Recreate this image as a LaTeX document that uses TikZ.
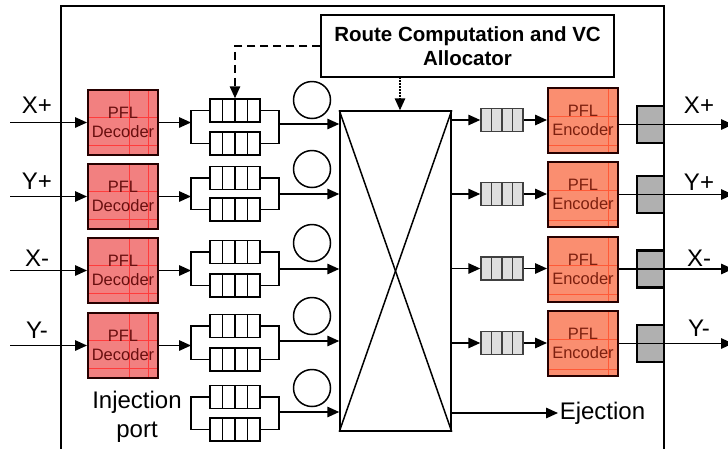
\documentclass[tikz,border=0pt]{standalone}
\usepackage{fontspec}
\setmainfont{Liberation Sans}
\usetikzlibrary{arrows.meta,calc}
\definecolor{decfill}{RGB}{242,128,128}
\definecolor{decgrid}{RGB}{255,60,60}
\definecolor{dectext}{RGB}{105,15,15}
\definecolor{encfill}{RGB}{250,142,112}
\definecolor{encgrid}{RGB}{255,90,55}
\definecolor{enctext}{RGB}{125,32,15}
\newcommand\vgrid[2]{\foreach \f in {#2}{\draw[#1,line width=0.4pt] ($(path picture bounding box.north west)!\f!(path picture bounding box.north east)$) -- ($(path picture bounding box.south west)!\f!(path picture bounding box.south east)$);}}
\newcommand\hgrid[2]{\foreach \f in {#2}{\draw[#1,line width=0.4pt] ($(path picture bounding box.north west)!\f!(path picture bounding box.south west)$) -- ($(path picture bounding box.north east)!\f!(path picture bounding box.south east)$);}}
\newcommand\qcells[1]{\foreach \f in {0.25,0.5,0.75}{\draw[#1,line width=1.5pt] ($(path picture bounding box.north west)!\f!(path picture bounding box.north east)$) -- ($(path picture bounding box.south west)!\f!(path picture bounding box.south east)$);}}
\tikzset{
  arr/.style={-{Triangle[length=12pt,width=10.5pt]}},
  dec/.style={draw=black!85!red, line width=2pt, fill=decfill, minimum width=70pt, minimum height=65pt, inner sep=0pt, align=center, text=dectext, font=\fontsize{16.5}{19}\selectfont, path picture={\vgrid{decgrid}{0.59,0.86}\hgrid{decgrid}{0.42,0.85}}},
  enc/.style={draw=black!85!red, line width=2pt, fill=encfill, minimum width=70pt, minimum height=65pt, inner sep=0pt, align=center, text=enctext, font=\fontsize{16.5}{19}\selectfont, path picture={\vgrid{encgrid}{0.86}\hgrid{encgrid}{0.44,0.89}}},
  iq/.style={draw, line width=1.5pt, fill=white, minimum width=50pt, minimum height=23pt, inner sep=0pt, path picture={\qcells{black}}},
  oq/.style={draw=black!75, line width=1.5pt, fill=gray!25, minimum width=42pt, minimum height=23pt, inner sep=0pt, path picture={\qcells{black!75}}},
  gbox/.style={draw, line width=2.2pt, fill=gray!62, minimum width=27pt, minimum height=37pt, inner sep=0pt},
  circ/.style={circle, draw, line width=1.5pt, minimum size=37pt, inner sep=0pt},
  xbar/.style={draw, line width=1.5pt, minimum width=111pt, minimum height=320pt, inner sep=0pt},
  rcbox/.style={draw, line width=1.5pt, minimum width=293pt, minimum height=62pt, inner sep=0pt, align=center, font=\bfseries\fontsize{20.5}{24}\selectfont},
  lab/.style={inner sep=1pt, font=\fontsize{24}{29}\selectfont},
}
\begin{document}
\begin{tikzpicture}[x=1pt,y=-1pt,line width=1.5pt]
\useasboundingbox (0,0) rectangle (728,448);
% router frame
\draw[line width=2.5pt] (61,452) -- (61,6) -- (664,6) -- (664,452);
% crossbar
\node[xbar] (xb) at (395.5,271) {};
\draw (xb.north west) -- (xb.south east);
\draw (xb.north east) -- (xb.south west);
% route computation box
\node[rcbox] (rc) at (467.5,46) {Route Computation and VC\\Allocator};
% input rows
\foreach \i/\d/\qt/\qb/\m/\c/\lab/\ly in {1/122.5/110.5/143.5/124/100/X+/105, 2/196.5/178/209.5/194/169/Y+/181, 3/270.5/252/285.5/269/243/X-/258, 4/345.5/326/359.5/341/316/Y-/330}{
  \node[dec] (d\i) at (123,\d) {PFL\\Decoder};
  \node[iq] (qa\i) at (235,\qt) {};
  \node[iq] (qb\i) at (235,\qb) {};
  \node[circ] (c\i) at (312,\c) {};
  \node[lab] (li\i) at (37,\ly) {\lab};
  \coordinate (in\i) at (10,\d);
  \coordinate (f\i) at (191,\d);
  \coordinate (m\i) at (279,\m);
  \draw[arr] (in\i) -- (d\i.west);
  \draw[arr] (d\i.east) -- (f\i);
  \draw (qa\i.west) -| (f\i) |- (qb\i.west);
  \draw (qa\i.east) -| (m\i) |- (qb\i.east);
  \draw[arr] (m\i) -- (m\i -| xb.west);
}
% injection port
\node[iq] (qa5) at (235,397) {};
\node[iq] (qb5) at (235,429.5) {};
\node[circ] (c5) at (312,388) {};
\coordinate (f5) at (191,413);
\coordinate (m5) at (279,412);
\draw (qa5.west) -| (f5) |- (qb5.west);
\draw (qa5.east) -| (m5) |- (qb5.east);
\draw[arr] (m5) -- (m5 -| xb.west);
\node[lab, align=center] (inj) at (137,417) {Injection\\port};
% output rows
\foreach \i/\o/\e/\g/\lab/\ly in {1/120/120/124.5/X+/105, 2/194/194.5/194.5/Y+/182, 3/268.5/269/269/X-/258, 4/343/343.5/343.5/Y-/328}{
  \node[oq] (oq\i) at (502,\o) {};
  \node[enc] (e\i) at (583,\e) {PFL\\Encoder};
  \node[gbox] (g\i) at (650.5,\g) {};
  \node[lab] (lo\i) at (699,\ly) {\lab};
  \coordinate (out\i) at (733,\g);
  \draw[arr] (oq\i.west -| xb.east) -- (oq\i.west);
  \draw[arr] (oq\i.east) -- (oq\i.east -| e\i.west);
  \draw[arr] (g\i.center -| e\i.east) -- (out\i);
}
% ejection
\node[lab, anchor=west] (ej) at (558,413) {Ejection};
\draw[arr] (ej.west -| xb.east) -- (ej.west);
% control signals
\draw[arr, dash pattern=on 8pt off 5pt] (rc.west) -| (qa1.north);
\coordinate (dtop) at (400,77);
\draw[arr, dash pattern=on 1.5pt off 1.5pt] (dtop) -- (dtop |- xb.north);
\end{tikzpicture}
\end{document}
